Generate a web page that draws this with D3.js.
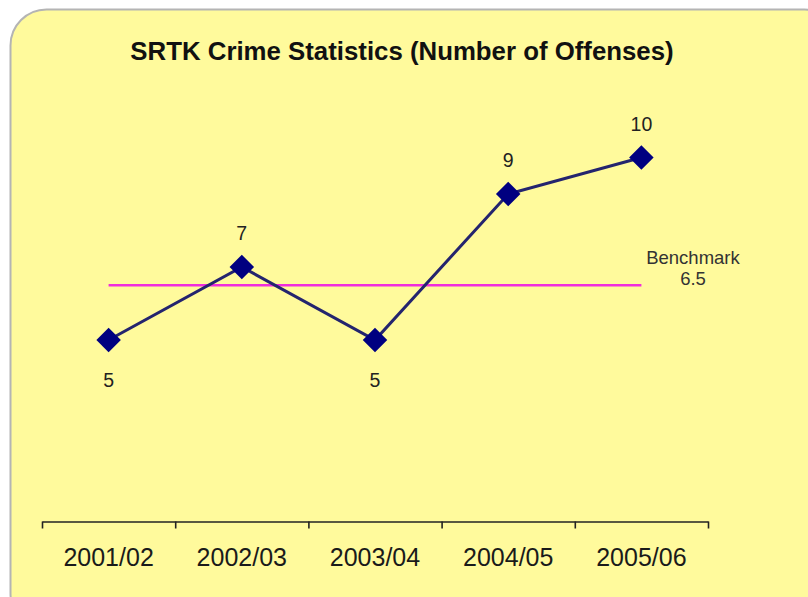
<!DOCTYPE html>
<html>
<head>
<meta charset="utf-8">
<script src="https://cdn.jsdelivr.net/npm/d3@7/dist/d3.min.js"></script>
<style>
  html, body { margin: 0; padding: 0; background: #ffffff; }
  svg { display: block; }
</style>
</head>
<body>
<svg id="chart" width="808" height="597"></svg>
<script>
const categories = ["2001/02", "2002/03", "2003/04", "2004/05", "2005/06"];
const offenses = [5, 7, 5, 9, 10];
const labelPos = ["below", "above", "below", "above", "above"];
const benchmark = 6.5;
const benchmarkLabel = ["Benchmark", "6.5"];
const title = "SRTK Crime Statistics (Number of Offenses)";

const svg = d3.select("#chart");

// panel background
svg.append("rect")
  .attr("x", 10.5).attr("y", 9.5)
  .attr("width", 830).attr("height", 620)
  .attr("rx", 36).attr("ry", 36)
  .attr("fill", "#FFFA9C")
  .attr("stroke", "#B4B4B4")
  .attr("stroke-width", 2);

const x = d3.scaleBand().domain(categories).range([42, 708]).padding(0);
const y = d3.scaleLinear().domain([0, 10]).range([522.5, 157.5]);
const cx = d => x(d) + x.bandwidth() / 2;

// title
svg.append("text")
  .attr("x", 402).attr("y", 60)
  .attr("text-anchor", "middle")
  .attr("font-family", "Liberation Sans, Arial, sans-serif")
  .attr("font-weight", "bold")
  .attr("font-size", 25.8)
  .attr("fill", "#111")
  .text(title);

// axis: boundary ticks
const bx = d3.scaleLinear().domain([0, categories.length]).range([42, 708]);
const axisG = svg.append("g")
  .attr("transform", `translate(0,${y(0) - 1})`)
  .call(d3.axisBottom(bx).ticks(categories.length).tickFormat("").tickSize(7).tickSizeOuter(0));
axisG.select(".domain").attr("stroke", "#222").attr("stroke-width", 1.6);
axisG.selectAll(".tick line").attr("stroke", "#222").attr("stroke-width", 1.6);

// category labels
const labG = svg.append("g")
  .attr("transform", `translate(0,${y(0) - 1})`)
  .call(d3.axisBottom(x).tickSize(0).tickPadding(27));
labG.select(".domain").remove();
labG.selectAll(".tick text")
  .attr("font-family", "Liberation Sans, Arial, sans-serif")
  .attr("font-size", 25)
  .attr("fill", "#1a1a1a");

// benchmark line
svg.append("line")
  .attr("x1", cx(categories[0])).attr("x2", cx(categories[categories.length - 1]))
  .attr("y1", y(benchmark)).attr("y2", y(benchmark))
  .attr("stroke", "#F02CDC").attr("stroke-width", 2.5);

const bl = svg.append("text")
  .attr("x", 693).attr("y", 264)
  .attr("text-anchor", "middle")
  .attr("font-family", "Liberation Sans, Arial, sans-serif")
  .attr("font-size", 18.5)
  .attr("fill", "#333");
benchmarkLabel.forEach((t, i) => {
  bl.append("tspan").attr("x", 693).attr("dy", i === 0 ? 0 : 21).text(t);
});

// series line
const line = d3.line().x((d, i) => cx(categories[i])).y(d => y(d));
svg.append("path")
  .datum(offenses)
  .attr("d", line)
  .attr("fill", "none")
  .attr("stroke", "#24246E")
  .attr("stroke-width", 3);

// markers
svg.selectAll(".marker")
  .data(offenses)
  .join("path")
  .attr("class", "marker")
  .attr("d", d3.symbol().type(d3.symbolSquare).size(300))
  .attr("transform", (d, i) => `translate(${cx(categories[i])},${y(d)}) rotate(45)`)
  .attr("fill", "#000080");

// value labels
svg.selectAll(".vlabel")
  .data(offenses)
  .join("text")
  .attr("class", "vlabel")
  .attr("x", (d, i) => cx(categories[i]))
  .attr("y", (d, i) => labelPos[i] === "above" ? y(d) - 27 : y(d) + 47)
  .attr("text-anchor", "middle")
  .attr("font-family", "Liberation Sans, Arial, sans-serif")
  .attr("font-size", 19.5)
  .attr("fill", "#222")
  .text(d => d);
</script>
</body>
</html>
